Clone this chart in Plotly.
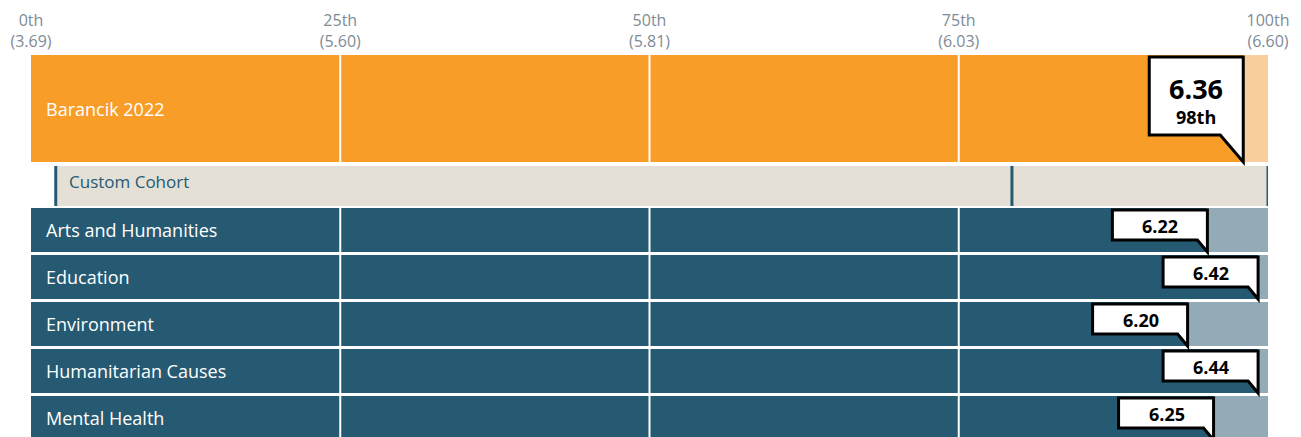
import plotly.graph_objects as go

# ---------------- data ----------------
tick_pcts = [0, 25, 50, 75, 100]
tick_names = ["0th", "25th", "50th", "75th", "100th"]
tick_scores = ["3.69", "5.60", "5.81", "6.03", "6.60"]

org_name = "Barancik 2022"
org_score = "6.36"
org_pct_label = "98th"
org_pct = 98.0

cohort_name = "Custom Cohort"
cohort_range = [2.0, 100.0]
cohort_marker = 79.3

categories = ["Arts and Humanities", "Education", "Environment",
              "Humanitarian Causes", "Mental Health"]
cat_scores = ["6.22", "6.42", "6.20", "6.44", "6.25"]
cat_pcts = [95.1, 99.2, 93.5, 99.2, 95.6]

# ---------------- style / layout ----------------
ORANGE = "#F89D28"
ORANGE_LIGHT = "#F9CFA0"
TEAL = "#265A73"
TEAL_LIGHT = "#93AAB7"
BEIGE = "#E4E0D5"
GREY = "#7E8B96"
FONT = "Open Sans"

W, H = 1301, 437
TOP = 55
org_top, org_bot = 55, 162
coh_top, coh_bot = 166, 206
row0, row_h, row_pitch = 208, 44, 47
cat_tops = [row0 + i * row_pitch for i in range(len(categories))]

fig = go.Figure()

def hbar(x, base, top, bot, color):
    fig.add_trace(go.Bar(
        orientation="h", x=[x], base=[base], y=[(top + bot) / 2], width=[bot - top],
        marker=dict(color=color, line=dict(width=0)), hoverinfo="skip", showlegend=False))

# organisation row
hbar(100, 0, org_top, org_bot, ORANGE_LIGHT)
hbar(org_pct, 0, org_top, org_bot, ORANGE)
# cohort row
hbar(cohort_range[1] - cohort_range[0], cohort_range[0], coh_top, coh_bot, BEIGE)
# category rows
for t, p in zip(cat_tops, cat_pcts):
    hbar(100, 0, t, t + row_h, TEAL_LIGHT)
    hbar(p, 0, t, t + row_h, TEAL)

shapes = []
# white gridlines
for g in tick_pcts[1:-1]:
    shapes.append(dict(type="line", xref="x", yref="y", x0=g, x1=g, y0=org_top, y1=org_bot,
                       line=dict(color="white", width=2)))
    shapes.append(dict(type="line", xref="x", yref="y", x0=g, x1=g, y0=cat_tops[0], y1=H + 5,
                       line=dict(color="white", width=2)))
# cohort markers
for cx in [cohort_range[0], cohort_marker, cohort_range[1]]:
    shapes.append(dict(type="line", xref="x", yref="y", x0=cx, x1=cx, y0=coh_top, y1=coh_bot,
                       line=dict(color=TEAL, width=3)))

# callouts
def callout(xv, top, box_bot, tip, width, tail):
    path = (f"M {-width},{top} L 0,{top} L 0,{tip} L {-tail},{box_bot} "
            f"L {-width},{box_bot} Z")
    shapes.append(dict(type="path", xref="x", yref="y", xsizemode="pixel", xanchor=xv,
                       path=path, fillcolor="white", line=dict(color="black", width=3)))

callout(org_pct, org_top + 2, 135, org_bot, 94, 23)
for t, p in zip(cat_tops, cat_pcts):
    callout(p, t + 2, t + 32, t + row_h, 95, 10)

annotations = []
# row labels
annotations.append(dict(x=0, y=(org_top + org_bot) / 2, xref="x", yref="y", text=org_name,
                        xanchor="left", xshift=13, showarrow=False,
                        font=dict(family=FONT, size=18, color="white")))
annotations.append(dict(x=0, y=coh_top + 15, xref="x", yref="y", text=cohort_name,
                        xanchor="left", xshift=36, showarrow=False,
                        font=dict(family=FONT, size=17, color=TEAL)))
for t, name in zip(cat_tops, categories):
    annotations.append(dict(x=0, y=t + row_h / 2, xref="x", yref="y", text=name,
                            xanchor="left", xshift=13, showarrow=False,
                            font=dict(family=FONT, size=18, color="white")))
# callout texts
annotations.append(dict(x=org_pct, y=88, xref="x", yref="y", text=org_score, xshift=-47,
                        showarrow=False, font=dict(family=FONT, size=27, color="black", weight=700)))
annotations.append(dict(x=org_pct, y=117, xref="x", yref="y", text=org_pct_label, xshift=-47,
                        showarrow=False, font=dict(family=FONT, size=18, color="black", weight=700)))
for t, p, s in zip(cat_tops, cat_pcts, cat_scores):
    annotations.append(dict(x=p, y=t + 18, xref="x", yref="y", text=s, xshift=-47,
                            showarrow=False, font=dict(family=FONT, size=18, color="black", weight=700)))

fig.update_layout(
    width=W, height=H,
    margin=dict(l=31, r=33, t=TOP, b=0, pad=0),
    paper_bgcolor="white", plot_bgcolor="white",
    barmode="overlay", bargap=0,
    showlegend=False,
    shapes=shapes, annotations=annotations,
    xaxis=dict(range=[0, 100], side="top", tickvals=tick_pcts,
               ticktext=[f"{n}<br>({s})" for n, s in zip(tick_names, tick_scores)],
               tickfont=dict(family=FONT, size=16, color=GREY), ticklabelstandoff=4,
               showgrid=False, zeroline=False, showline=False, ticks="", fixedrange=True),
    yaxis=dict(range=[H, TOP], visible=False, showgrid=False, zeroline=False, fixedrange=True),
    font=dict(family=FONT),
)

fig.write_html("out.html", config={"displayModeBar": False},
               post_script="document.body.style.margin='0';document.body.style.overflow='hidden';")
